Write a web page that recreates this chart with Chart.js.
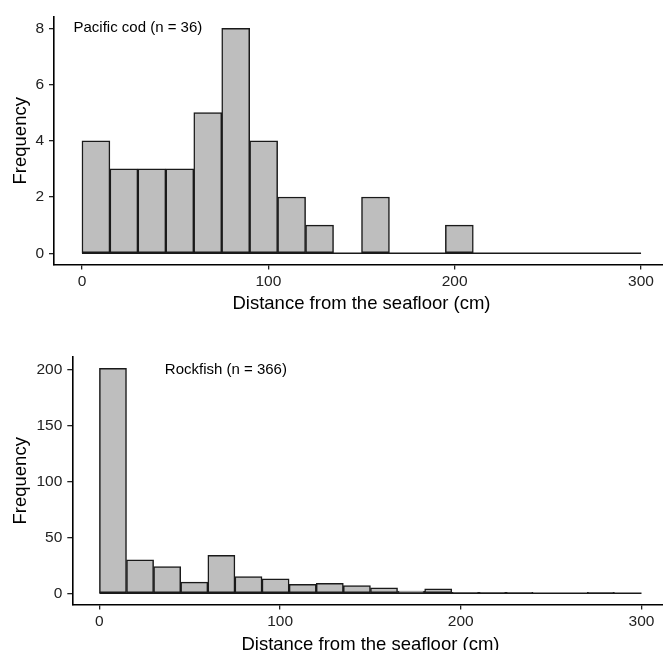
<!DOCTYPE html>
<html>
<head>
<meta charset="utf-8">
<script src="https://cdn.jsdelivr.net/npm/chart.js@4.4.1/dist/chart.umd.min.js"></script>
<style>
  html, body { margin: 0; padding: 0; background: #fff; width: 663px; height: 650px; overflow: hidden; }
  .panel { position: absolute; left: 0; }
  #codBox { top: 0; }
  #rockBox { top: 330px; }
</style>
</head>
<body>
<div class="panel" id="codBox"><canvas id="codChart" width="680" height="320"></canvas></div>
<div class="panel" id="rockBox"><canvas id="rockChart" width="680" height="340"></canvas></div>
<script>
// bin edges (cm), 15 cm wide bins
const binEdges = [0, 15, 30, 45, 60, 75, 90, 105, 120, 135, 150, 165, 180, 195, 210, 225, 240, 255, 270, 285, 300]

// counts per bin
const codCounts = [4, 3, 3, 3, 5, 8, 4, 2, 1, 0, 2, 0, 0, 1, 0, 0, 0, 0, 0, 0]
const rockCounts = [201, 30, 24, 10, 34, 15, 13, 8, 9, 7, 5, 2, 4, 1, 1, 1, 0, 0, 1, 0]

// tick labels
const xTicks = [0, 100, 200, 300]
const codYTicks = [0, 2, 4, 6, 8]
const rockYTicks = [0, 50, 100, 150, 200]

const xTitle = "Distance from the seafloor (cm)"
const yTitle = "Frequency"
const codLabel = "Pacific cod (n = 36)"
const rockLabel = "Rockfish (n = 366)"

const FONT = "'Liberation Sans', Arial, sans-serif"

function toPoints(counts) {
    return counts.map((c, i) => ({ x: (binEdges[i] + binEdges[i + 1]) / 2, y: c }))
}

// flat line along zero for the whole binned range (ggplot draws empty bins like this)
const baseline = {
    id: "baseline",
    afterDatasetsDraw(chart) {
        const ctx = chart.ctx
        const x = chart.scales.x
        const y = chart.scales.y
        ctx.save()
        ctx.strokeStyle = "#1a1a1a"
        ctx.lineWidth = 1.5
        ctx.beginPath()
        ctx.moveTo(x.getPixelForValue(binEdges[0]), y.getPixelForValue(0))
        ctx.lineTo(x.getPixelForValue(binEdges[binEdges.length - 1]), y.getPixelForValue(0))
        ctx.stroke()
        ctx.restore()
    }
}

const label = {
    id: "label",
    afterDraw(chart, args, opts) {
        const ctx = chart.ctx
        ctx.save()
        ctx.font = "15px " + FONT
        ctx.fillStyle = "#000"
        ctx.textAlign = "center"
        ctx.textBaseline = "middle"
        ctx.fillText(opts.text, chart.scales.x.getPixelForValue(opts.x), chart.scales.y.getPixelForValue(opts.y))
        ctx.restore()
    }
}

function makeChart(id, counts, yTicks, yMin, yMax, box, note) {
    return new Chart(document.getElementById(id), {
        type: "bar",
        data: {
            datasets: [{
                data: toPoints(counts),
                backgroundColor: "#BEBEBE",
                borderColor: "#1a1a1a",
                borderWidth: 1.5,
                borderSkipped: false,
                barPercentage: 1,
                categoryPercentage: 1
            }]
        },
        plugins: [baseline, label],
        options: {
            responsive: false,
            devicePixelRatio: 1,
            animation: false,
            layout: { padding: { top: box.top, right: box.right, left: 0, bottom: 0 } },
            plugins: {
                legend: { display: false },
                tooltip: { enabled: false },
                label: note
            },
            scales: {
                x: {
                    type: "linear",
                    min: -15,
                    max: 315,
                    offset: false,
                    afterBuildTicks: (s) => { s.ticks = xTicks.map(v => ({ value: v })) },
                    afterFit: (s) => { s.height = box.xHeight },
                    grid: { display: true, drawOnChartArea: false, drawTicks: true, tickLength: 5, color: "#222", lineWidth: 1.3, offset: false },
                    border: { display: true, color: "#000", width: 1.6 },
                    ticks: { color: "#222", font: { family: FONT, size: 15.5 }, padding: 3, maxRotation: 0 },
                    title: { display: true, text: xTitle, color: "#000", font: { family: FONT, size: 18.5, lineHeight: 1.2 }, padding: { top: 0, bottom: box.titlePad } }
                },
                y: {
                    min: yMin,
                    max: yMax,
                    afterBuildTicks: (s) => { s.ticks = yTicks.map(v => ({ value: v })) },
                    afterFit: (s) => { s.width = box.yWidth },
                    grid: { display: true, drawOnChartArea: false, drawTicks: true, tickLength: 5, color: "#222", lineWidth: 1.3 },
                    border: { display: true, color: "#000", width: 1.6 },
                    ticks: { color: "#222", font: { family: FONT, size: 15.5 }, padding: 5 },
                    title: { display: true, text: yTitle, color: "#000", font: { family: FONT, size: 18.5, lineHeight: 1.2 }, padding: { top: 10, bottom: 0 } }
                }
            }
        }
    })
}

makeChart("codChart", codCounts, codYTicks, -0.4, 8.4,
    { top: 17, right: 11, xHeight: 55.5, yWidth: 54, titlePad: 5 },
    { text: codLabel, x: 30, y: 8 })

makeChart("rockChart", rockCounts, rockYTicks, -10.05, 211.05,
    { top: 27, right: 11.4, xHeight: 65.4, yWidth: 72.3, titlePad: 14.4 },
    { text: rockLabel, x: 70, y: 200 })
</script>
</body>
</html>
